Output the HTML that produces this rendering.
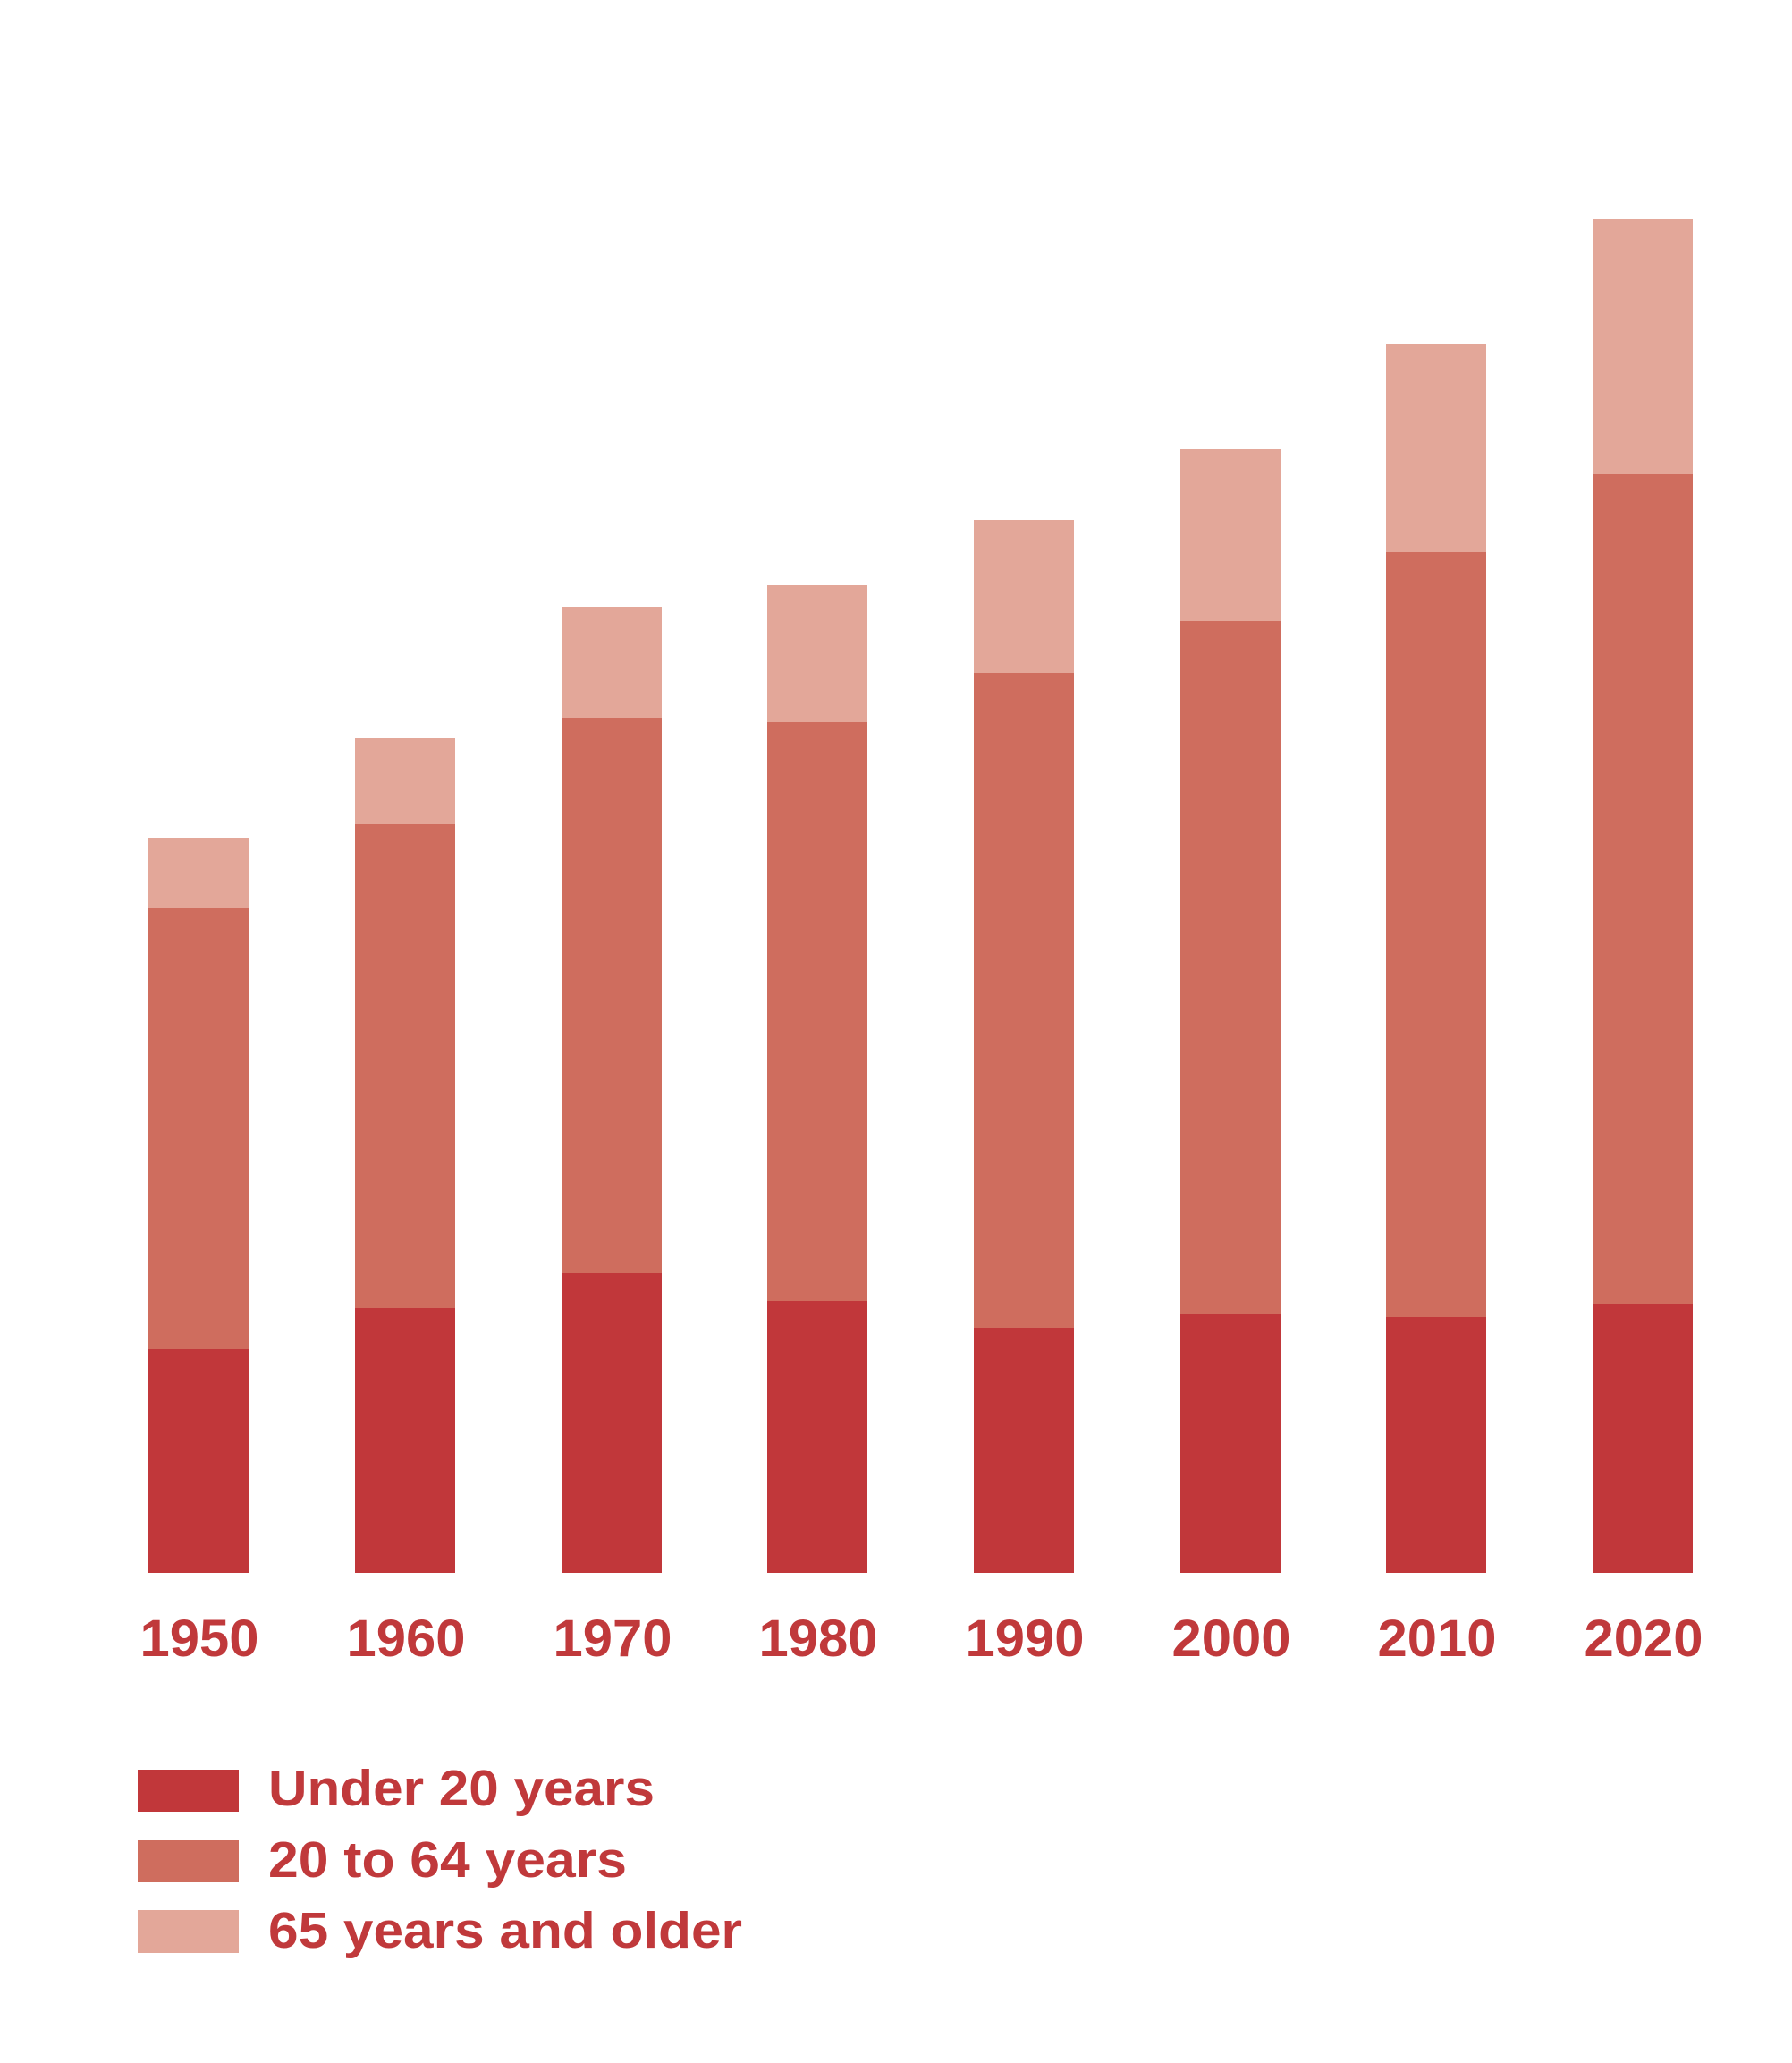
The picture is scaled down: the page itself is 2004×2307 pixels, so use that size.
<!DOCTYPE html>
<html><head><meta charset="utf-8"><style>
html,body{margin:0;padding:0;background:#fff;}
</style></head><body>
<svg width="2004" height="2307" xmlns="http://www.w3.org/2000/svg" style="display:block">
<rect width="2004" height="2307" fill="#fff"/>
<g font-family="Liberation Sans, Arial, sans-serif" font-weight="bold" fill="#c0393b">
<rect x="166" y="1508" width="112" height="251" fill="#c1373a"/><rect x="166" y="1015" width="112" height="493" fill="#cf6d5e"/><rect x="166" y="937" width="112" height="78" fill="#e3a799"/>
<rect x="397" y="1463" width="112" height="296" fill="#c1373a"/><rect x="397" y="921" width="112" height="542" fill="#cf6d5e"/><rect x="397" y="825" width="112" height="96" fill="#e3a799"/>
<rect x="628" y="1424" width="112" height="335" fill="#c1373a"/><rect x="628" y="803" width="112" height="621" fill="#cf6d5e"/><rect x="628" y="679" width="112" height="124" fill="#e3a799"/>
<rect x="858" y="1455" width="112" height="304" fill="#c1373a"/><rect x="858" y="807" width="112" height="648" fill="#cf6d5e"/><rect x="858" y="654" width="112" height="153" fill="#e3a799"/>
<rect x="1089" y="1485" width="112" height="274" fill="#c1373a"/><rect x="1089" y="753" width="112" height="732" fill="#cf6d5e"/><rect x="1089" y="582" width="112" height="171" fill="#e3a799"/>
<rect x="1320" y="1469" width="112" height="290" fill="#c1373a"/><rect x="1320" y="695" width="112" height="774" fill="#cf6d5e"/><rect x="1320" y="502" width="112" height="193" fill="#e3a799"/>
<rect x="1550" y="1473" width="112" height="286" fill="#c1373a"/><rect x="1550" y="617" width="112" height="856" fill="#cf6d5e"/><rect x="1550" y="385" width="112" height="232" fill="#e3a799"/>
<rect x="1781" y="1458" width="112" height="301" fill="#c1373a"/><rect x="1781" y="530" width="112" height="928" fill="#cf6d5e"/><rect x="1781" y="245" width="112" height="285" fill="#e3a799"/>
<g font-size="58" text-anchor="middle">
<text x="223" y="1852" textLength="133" lengthAdjust="spacingAndGlyphs">1950</text>
<text x="454" y="1852" textLength="133" lengthAdjust="spacingAndGlyphs">1960</text>
<text x="685" y="1852" textLength="133" lengthAdjust="spacingAndGlyphs">1970</text>
<text x="915" y="1852" textLength="133" lengthAdjust="spacingAndGlyphs">1980</text>
<text x="1146" y="1852" textLength="133" lengthAdjust="spacingAndGlyphs">1990</text>
<text x="1377" y="1852" textLength="133" lengthAdjust="spacingAndGlyphs">2000</text>
<text x="1607" y="1852" textLength="133" lengthAdjust="spacingAndGlyphs">2010</text>
<text x="1838" y="1852" textLength="133" lengthAdjust="spacingAndGlyphs">2020</text>
</g>
<rect x="154" y="1979" width="113" height="47" fill="#c1373a"/>
<rect x="154" y="2058" width="113" height="47" fill="#cf6d5e"/>
<rect x="154" y="2136" width="113" height="48" fill="#e3a799"/>
<g font-size="57">
<text x="300" y="2019" textLength="432" lengthAdjust="spacingAndGlyphs">Under 20 years</text>
<text x="300" y="2099" textLength="401" lengthAdjust="spacingAndGlyphs">20 to 64 years</text>
<text x="300" y="2178" textLength="530" lengthAdjust="spacingAndGlyphs">65 years and older</text>
</g>
</g>
</svg>
</body></html>
